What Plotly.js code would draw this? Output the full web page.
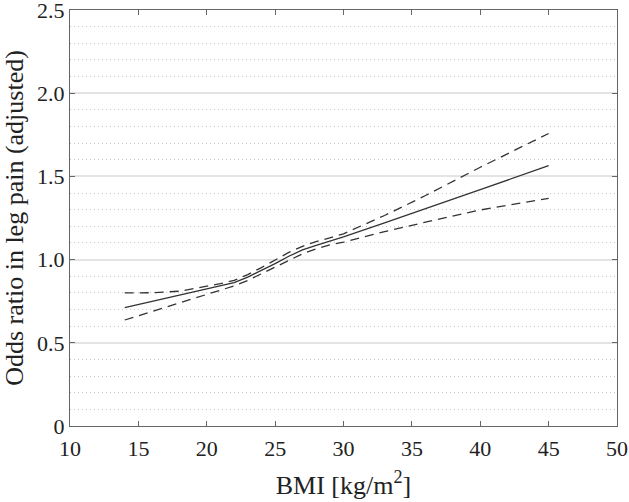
<!DOCTYPE html>
<html>
<head>
<meta charset="utf-8">
<script src="https://cdn.plot.ly/plotly-3.0.1.min.js"></script>
<style>html,body{margin:0;padding:0;background:#fff;}</style>
</head>
<body>
<div id="chart" style="width:629px;height:502px;"></div>
<script>
const bmi = [14, 16, 18, 20, 21, 22, 23, 24, 25, 26, 27, 28, 29, 30, 33, 36, 40, 45];
const oddsRatio = [0.711, 0.748, 0.785, 0.821, 0.840, 0.862, 0.895, 0.934, 0.976, 1.020, 1.058, 1.085, 1.110, 1.136, 1.220, 1.305, 1.420, 1.565];
const upperCI = [0.800, 0.801, 0.810, 0.838, 0.855, 0.875, 0.910, 0.952, 0.998, 1.043, 1.080, 1.108, 1.130, 1.155, 1.265, 1.385, 1.555, 1.758];
const lowerCI = [0.637, 0.688, 0.739, 0.790, 0.815, 0.842, 0.875, 0.915, 0.956, 0.998, 1.035, 1.065, 1.088, 1.105, 1.168, 1.225, 1.298, 1.368];
const xTicks = [10, 15, 20, 25, 30, 35, 40, 45, 50];
const yTicks = [0, 0.5, 1.0, 1.5, 2.0, 2.5];
const yTickText = ['0', '0.5', '1.0', '1.5', '2.0', '2.5'];

const lineColor = '#333333';
const traces = [
  {x: bmi, y: upperCI, mode: 'lines', line: {color: lineColor, width: 1.3, dash: '9px,6px'}, hoverinfo: 'skip'},
  {x: bmi, y: lowerCI, mode: 'lines', line: {color: lineColor, width: 1.3, dash: '9px,6px'}, hoverinfo: 'skip'},
  {x: bmi, y: oddsRatio, mode: 'lines', line: {color: lineColor, width: 1.3}, hoverinfo: 'skip'}
];

const family = 'Liberation Serif';
const tickFont = {family: family, size: 22, color: '#222'};
const titleFont = {family: family, size: 26, color: '#222'};
const layout = {
  width: 629, height: 502,
  margin: {l: 70, r: 12, t: 10, b: 76},
  paper_bgcolor: '#fff', plot_bgcolor: '#fff',
  showlegend: false,
  font: {family: family, size: 22, color: '#222'},
  xaxis: {
    range: [10, 50], tickvals: xTicks, ticktext: xTicks.map(String),
    showgrid: false, zeroline: false,
    showline: true, linecolor: '#666', linewidth: 1, mirror: 'ticks',
    ticks: 'inside', ticklen: 5, tickcolor: '#666',
    tickfont: tickFont, ticklabeloverflow: 'allow', ticklabelstandoff: 3,
    title: {text: 'BMI [kg/m<sup>2</sup>]', font: titleFont, standoff: 15}
  },
  yaxis: {
    range: [0, 2.5], tickvals: yTicks, ticktext: yTickText,
    showgrid: true, gridcolor: '#e4e4e4', gridwidth: 2, zeroline: false,
    showline: true, linecolor: '#666', linewidth: 1, mirror: 'ticks',
    ticks: 'inside', ticklen: 5, tickcolor: '#666',
    tickfont: tickFont, ticklabeloverflow: 'allow',
    minor: {dtick: 0.1, tick0: 0, showgrid: true, gridcolor: '#c8c8c8', griddash: '1px,3px', gridwidth: 1, ticks: ''},
    title: {text: 'Odds ratio in leg pain (adjusted)', font: titleFont, standoff: 6}
  }
};
Plotly.newPlot('chart', traces, layout, {staticPlot: true, displayModeBar: false});
</script>
</body>
</html>
